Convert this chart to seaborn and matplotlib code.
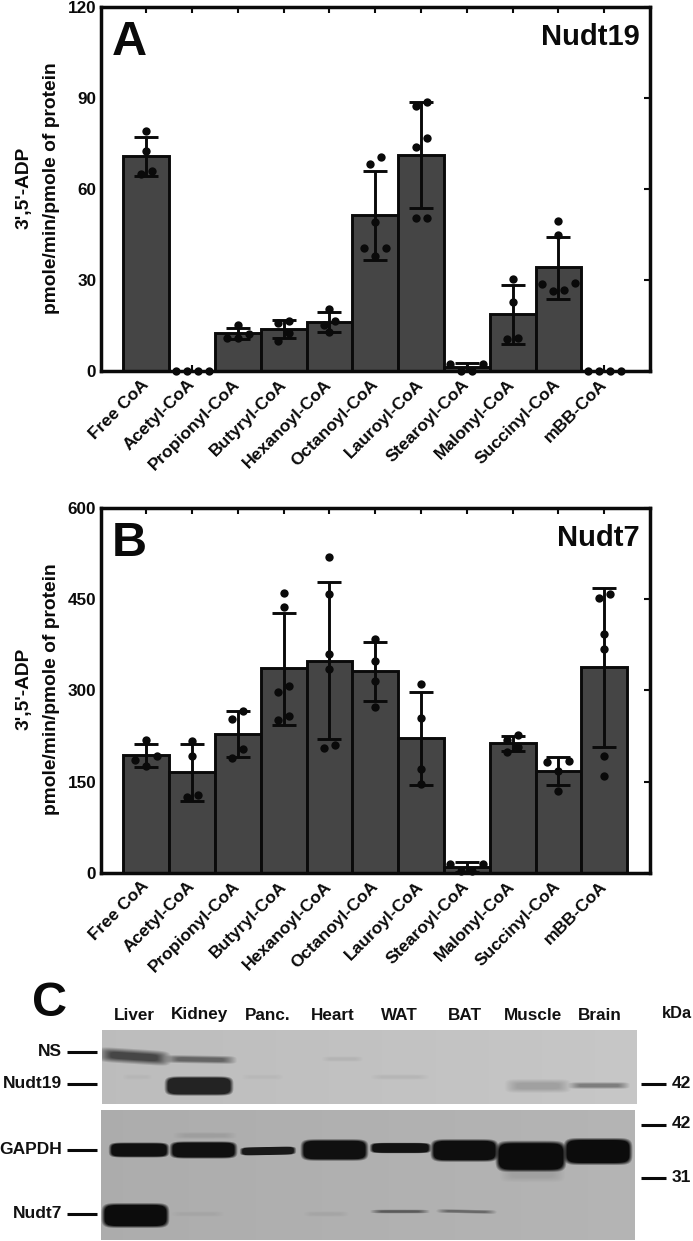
import numpy as np
import pandas as pd
import matplotlib
matplotlib.use('Agg')
import matplotlib.pyplot as plt
import seaborn as sns

W, H = 693, 1241

substrates = ['Free CoA', 'Acetyl-CoA', 'Propionyl-CoA', 'Butyryl-CoA', 'Hexanoyl-CoA', 'Octanoyl-CoA',
              'Lauroyl-CoA', 'Stearoyl-CoA', 'Malonyl-CoA', 'Succinyl-CoA', 'mBB-CoA']

# Nudt19 activity
nudt19_mean = [71, 0, 12.5, 13.8, 16.3, 51.4, 71.3, 1.2, 18.7, 34.2, 0]
nudt19_upper = [77.3, 0, 14.3, 16.8, 19.4, 65.9, 88.7, 2.5, 28.5, 44.1, 0]
nudt19_lower = [64.2, 0, 10.4, 10.9, 12.8, 36.6, 53.9, 0, 8.8, 23.7, 0]
nudt19_points = [[79, 72.6, 66, 65], [0, 0, 0, 0], [15.3, 12.3, 11, 11], [16.6, 15.7, 12.6, 10],
                 [20.3, 16.5, 15.3, 12.7], [70.4, 68.4, 49.2, 40.7, 40.7, 37.9],
                 [88.7, 87.5, 76.8, 74, 50.3, 50.3], [2.2, 2.2, 0, 0], [30.4, 22.9, 10.8, 10.6],
                 [49.4, 44.9, 28.9, 28.7, 26.6, 26.3], [0, 0, 0, 0]]
nudt19_ticks = [0, 30, 60, 90, 120]

# Nudt7 activity
nudt7_mean = [193, 165, 228, 336, 349, 332, 222, 9, 213, 167, 338]
nudt7_upper = [211, 211, 265.7, 426.5, 477.6, 380, 297, 18, 225.6, 191, 468]
nudt7_lower = [174.6, 118.6, 191, 243.7, 220, 283, 144, 1, 200, 144, 207.5]
nudt7_points = [[219, 192, 185, 175], [216, 192, 128, 124], [266, 253, 204, 189],
                [460, 437, 307, 297, 258, 251], [520, 459, 359, 335, 210, 205], [385, 349, 316, 272],
                [310, 255, 170, 146], [15, 15, 3, 3], [226, 218, 206, 199], [184, 182, 168, 134],
                [459, 452, 392, 368, 192, 159]]
nudt7_ticks = [0, 150, 300, 450, 600]

# Western blot labels
lanes = ['Liver', 'Kidney', 'Panc.', 'Heart', 'WAT', 'BAT', 'Muscle', 'Brain']
lane_x = [134, 199.6, 267.6, 333, 399, 465, 533, 600]
blot_labels = ['NS', 'Nudt19', 'GAPDH', 'Nudt7']
blot_label_y = [1052, 1084, 1150, 1214]
kda_labels = ['42', '42', '31']
kda_y = [1084, 1125, 1178]

# bands: x0, x1, y0, y1, grey level, tilt (page pixels)
upper_bands = [(103, 165, 1051, 1062, 70, 4), (170, 231, 1056.5, 1062.5, 100, 1), (166, 232, 1077, 1095, 35, 0),
               (510, 566, 1081, 1091, 160, 0), (573, 625, 1083, 1088, 125, 0),
               (325, 360, 1057, 1061, 180, 0), (375, 425, 1075, 1079, 182, 0), (125, 150, 1075, 1079, 182, 0),
               (245, 280, 1075, 1079, 184, 0)]
lower_bands = [(110, 168, 1143, 1157, 16, 0), (171, 236, 1142, 1158, 16, 0), (241, 295, 1147, 1155, 25, -1),
               (302, 367, 1140, 1160, 16, 0), (371, 430, 1143, 1153, 18, 0), (432, 497, 1140, 1161, 14, 0),
               (497, 565, 1142, 1171, 12, 0), (565, 631, 1139, 1164, 12, 0), (103, 168, 1204, 1227, 12, 0),
               (375, 425, 1210, 1213, 90, 0), (441, 492, 1210, 1213, 105, 1),
               (175, 220, 1212, 1216, 165, 0), (307, 345, 1212, 1216, 165, 0), (178, 232, 1133, 1138, 158, 0),
               (505, 560, 1168, 1180, 160, 0)]

sns.set_theme(style='white')
plt.rcParams['font.family'] = ['Liberation Sans', 'DejaVu Sans']
plt.rcParams['font.weight'] = 'bold'

fig = plt.figure(figsize=(W / 100, H / 100), dpi=100, facecolor='white')


def add_ax(x0, x1, y0, y1):
    return fig.add_axes([x0 / W, 1 - y1 / H, (x1 - x0) / W, (y1 - y0) / H])


def row_offsets(values, tol, step=0.24):
    # values that sit close together share a row, lowest one nearest the middle
    order = sorted(range(len(values)), key=lambda i: -values[i])
    rows = []
    for i in order:
        if rows and values[rows[-1][0]] - values[i] <= tol:
            rows[-1].append(i)
        else:
            rows.append([i])
    offsets = [0.0] * len(values)
    for row in rows:
        slots = step * (np.arange(len(row)) - (len(row) - 1) / 2)
        slots = sorted(slots, key=abs)
        for i, s in zip(sorted(row, key=lambda k: values[k]), slots):
            offsets[i] = s
    return offsets


def activity_panel(ax, mean, upper, lower, points, ticks, tol, letter, name):
    df = pd.DataFrame({'substrate': substrates, 'mean': mean})
    sns.barplot(data=df, x='substrate', y='mean', color='#454545', saturation=1, width=1,
                edgecolor='#0a0a0a', linewidth=2.1, ax=ax, zorder=2)
    pos = np.arange(len(substrates))
    ax.errorbar(pos, mean, yerr=[np.array(mean) - np.array(lower), np.array(upper) - np.array(mean)],
                fmt='none', ecolor='#0a0a0a', elinewidth=2.1, capsize=8.3, capthick=2.1, zorder=3, clip_on=False)
    rows = []
    for i, vals in enumerate(points):
        for v, off in zip(vals, row_offsets(vals, tol)):
            rows.append({'x': i + off, 'y': v})
    sns.scatterplot(data=pd.DataFrame(rows), x='x', y='y', color='#0a0a0a', s=36, linewidth=0,
                    ax=ax, zorder=4, clip_on=False)
    ax.set_xlim(-1, 11)
    ax.set_ylim(ticks[0], ticks[-1])
    ax.set_yticks(ticks)
    ax.set_xlabel('')
    ax.set_ylabel('')
    ax.set_xticks(pos)
    ax.set_xticklabels(substrates, rotation=45, ha='right', va='center', rotation_mode='anchor', fontsize=12.5)
    ax.tick_params(axis='x', direction='in', top=True, bottom=True, length=4, width=1.5, color='#0a0a0a', pad=8,
                   labelcolor='#0a0a0a')
    ax.tick_params(axis='y', direction='in', right=True, left=False, length=4, width=1.5, color='#0a0a0a', pad=3,
                   labelsize=12.3, labelcolor='#0a0a0a')
    for s in ax.spines.values():
        s.set_linewidth(2.5)
        s.set_color('#0a0a0a')
        s.set_zorder(5)
    ax.text(0.02, 0.963, letter, transform=ax.transAxes, fontsize=35, va='top', ha='left', color='#0a0a0a')
    ax.text(0.982, 0.957, name, transform=ax.transAxes, fontsize=21, va='top', ha='right', color='#0a0a0a')


ax_a = add_ax(100.5, 650, 7, 371)
activity_panel(ax_a, nudt19_mean, nudt19_upper, nudt19_lower, nudt19_points, nudt19_ticks, 2.9, 'A', 'Nudt19')
ax_b = add_ax(100.5, 650, 508, 872.7)
activity_panel(ax_b, nudt7_mean, nudt7_upper, nudt7_lower, nudt7_points, nudt7_ticks, 17.5, 'B', 'Nudt7')


def blot_image(x0, x1, y0, y1, bg_left, bg_right, bands):
    xx, yy = np.meshgrid(np.arange(x0, x1) + 0.5, np.arange(y0, y1) + 0.5)
    img = np.tile(np.linspace(bg_left, bg_right, x1 - x0), (y1 - y0, 1))
    for bx0, bx1, by0, by1, grey, tilt in bands:
        cx, cy = (bx0 + bx1) / 2, (by0 + by1) / 2
        hw, hh = (bx1 - bx0) / 2, (by1 - by0) / 2
        dy = yy - cy - tilt * (xx - cx) / (2 * hw)
        r = (np.abs((xx - cx) / hw) ** 8 + np.abs(dy / hh) ** 4) ** (1 / 4)
        # dark bands have hard edges, faint ones fade out
        soft = 0.12 if grey < 50 else 0.45
        a = np.clip((1 + soft - r) / (2 * soft), 0, 1)
        img = np.minimum(img, img * (1 - a) + grey * a)
    return img


def blot_panel(x0, x1, y0, y1, bg_left, bg_right, bands):
    ax = add_ax(x0, x1, y0, y1)
    sns.heatmap(blot_image(x0, x1, y0, y1, bg_left, bg_right, bands), cmap='gray', vmin=0, vmax=255, cbar=False,
                xticklabels=False, yticklabels=False, ax=ax)
    return ax


blot_panel(102, 637, 1030, 1104, 188, 198, upper_bands)
blot_panel(101, 635, 1110, 1240, 172, 180, lower_bands)

# overlay in page pixels for panel C text and the two y titles
ov = fig.add_axes([0, 0, 1, 1], facecolor='none')
ov.set_xlim(0, W)
ov.set_ylim(H, 0)
ov.axis('off')
for yc in [188, 689]:
    ov.text(24, yc, "3',5'-ADP", rotation=90, ha='center', va='center', fontsize=13.8, color='#0a0a0a')
    ov.text(52, yc, 'pmole/min/pmole of protein', rotation=90, ha='center', va='center', fontsize=13.8,
            color='#0a0a0a')
ov.text(32, 1003, 'C', fontsize=35, ha='left', va='center', color='#0a0a0a')
for name, x in zip(lanes, lane_x):
    ov.text(x, 1015, name, fontsize=12.3, ha='center', va='center', color='#111111')
ov.text(677, 1014, 'kDa', fontsize=11.8, ha='center', va='center', color='#111111')
for name, y in zip(blot_labels, blot_label_y):
    ov.text(62, y, name, fontsize=12.5, ha='right', va='center', color='#111111')
    ov.plot([67, 97], [y, y], color='#0a0a0a', lw=2.2, solid_capstyle='butt')
for name, y in zip(kda_labels, kda_y):
    ov.text(672, y - 1, name, fontsize=12.5, ha='left', va='center', color='#111111')
    ov.plot([641, 666], [y, y], color='#0a0a0a', lw=2.2, solid_capstyle='butt')

fig.savefig('out.png', dpi=100, facecolor='white')
